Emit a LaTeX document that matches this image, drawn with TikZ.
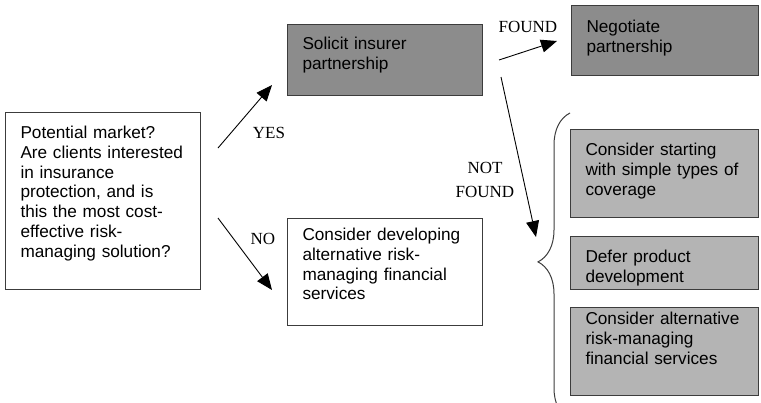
\documentclass[tikz,border=0pt]{standalone}
\usepackage{fontspec}
\setmainfont{Liberation Serif}
\setsansfont{Liberation Sans}
\usetikzlibrary{arrows.meta, decorations.pathreplacing}
\definecolor{boxdark}{RGB}{140,140,140}
\definecolor{boxlight}{RGB}{180,180,180}
\definecolor{edgegray}{RGB}{60,60,60}

\begin{document}
\begin{tikzpicture}[x=1pt, y=-1pt,
  stage/.style={draw=edgegray, line width=1pt, anchor=north west, align=left,
    inner xsep=15pt, inner ysep=0pt, font=\sffamily\fontsize{17.2}{19.8}\selectfont},
  answer/.style={font=\fontsize{17}{24}\selectfont, align=center},
  flow/.style={-{Triangle[length=16pt,width=13pt]}, line width=0.9pt}]

\useasboundingbox (0,0) rectangle (761,402);
\clip (0,0) rectangle (761,402);

% question
\node[stage, text width=165pt, text height=26pt, text depth=151pt] (market) at (5,112)
  {Potential market?\\Are clients interested\\in insurance\\protection, and is\\this the most cost-\\effective risk-\\managing solution?};

% yes / no branches
\node[stage, fill=boxdark, text width=165pt, text height=25pt, text depth=46pt] (solicit) at (287,24)
  {Solicit insurer\\partnership};
\node[stage, text width=165pt, text height=22pt, text depth=85pt] (develop) at (287,218)
  {Consider developing\\alternative risk-\\managing financial\\services};

% found / not found
\node[stage, fill=boxdark, text width=157pt, text height=27pt, text depth=43pt] (negotiate) at (571,5)
  {Negotiate\\partnership};
\node[stage, fill=boxlight, text width=158pt, text height=26pt, text depth=62pt] (simple) at (570,129)
  {Consider starting\\with simple types of\\coverage};
\node[stage, fill=boxlight, text width=158pt, text height=26pt, text depth=27pt] (defer) at (570,236)
  {Defer product\\development};
\node[stage, fill=boxlight, text width=158pt, text height=17pt, text depth=71pt] (altern) at (570,307)
  {Consider alternative\\risk-managing\\financial services};

% arrow ends
\coordinate (yes-tail) at (218,148);
\coordinate (yes-head) at (272,85);
\coordinate (no-tail) at (218,218);
\coordinate (no-head) at (272,290);
\coordinate (found-tail) at (499,60);
\coordinate (found-head) at (557,41);
\coordinate (notfound-tail) at (501,77);
\coordinate (notfound-head) at (536,237);

\draw[flow] (yes-tail) -- (yes-head);
\draw[flow] (no-tail) -- (no-head);
\draw[flow] (found-tail) -- (found-head);
\draw[flow] (notfound-tail) -- (notfound-head);

\node[answer] (yes) at (269,133) {YES};
\node[answer] (no) at (263,239) {NO};
\node[answer] (found) at (528,27) {FOUND};
\node[answer] (notfound) at (485,180) {NOT\\FOUND};

% brace round the options
\draw[edgegray, line width=1pt, decorate, decoration={brace, amplitude=32pt, aspect=0.515}]
  (570,420) -- (570,113);

\end{tikzpicture}
\end{document}
